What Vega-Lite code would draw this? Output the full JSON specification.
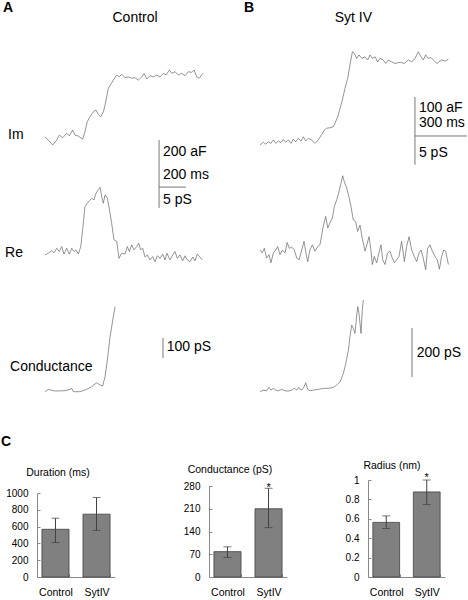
{
"$schema": "https://vega.github.io/schema/vega-lite/v6.json",
"padding": 0,
"background": "white",
"spacing": 14,
"config": {"view": {"stroke": null}, "font": "Liberation Sans", "title": {"color": "#000"}, "text": {"color": "#000"},
  "axis": {"labelOverlap": false, "grid": false, "title": null, "domainColor": "#888", "tickColor": "#888", "labelColor": "#000", "tickSize": -3}},
"datasets": {
"imA": [{"t":0,"v":14},{"t":24,"v":0},{"t":57,"v":-21},{"t":82,"v":-4},{"t":106,"v":21},{"t":131,"v":10},{"t":161,"v":29},{"t":180,"v":18},{"t":205,"v":43},{"t":222,"v":21},{"t":247,"v":17},{"t":279,"v":4},{"t":296,"v":35},{"t":313,"v":78},{"t":333,"v":99},{"t":358,"v":120},{"t":378,"v":128},{"t":395,"v":109},{"t":413,"v":99},{"t":432,"v":120},{"t":445,"v":149},{"t":457,"v":184},{"t":469,"v":220},{"t":487,"v":237},{"t":506,"v":255},{"t":531,"v":277},{"t":551,"v":269},{"t":568,"v":280},{"t":593,"v":265},{"t":617,"v":269},{"t":642,"v":263},{"t":667,"v":265},{"t":691,"v":255},{"t":717,"v":269},{"t":734,"v":284},{"t":754,"v":260},{"t":778,"v":274},{"t":802,"v":269},{"t":828,"v":277},{"t":852,"v":269},{"t":877,"v":284},{"t":897,"v":277},{"t":921,"v":298},{"t":939,"v":284},{"t":963,"v":291},{"t":988,"v":277},{"t":1013,"v":284},{"t":1037,"v":274},{"t":1062,"v":291},{"t":1087,"v":288},{"t":1104,"v":298},{"t":1124,"v":269},{"t":1143,"v":263},{"t":1169,"v":284}],
"reA": [{"t":0,"v":0},{"t":24,"v":0.4},{"t":49,"v":1.0},{"t":67,"v":0.5},{"t":87,"v":1.6},{"t":106,"v":0.8},{"t":124,"v":2.0},{"t":141,"v":0.2},{"t":161,"v":1.6},{"t":180,"v":0.2},{"t":198,"v":1.6},{"t":215,"v":0.8},{"t":230,"v":1.2},{"t":247,"v":0.2},{"t":265,"v":2.0},{"t":279,"v":6.0},{"t":296,"v":11.5},{"t":313,"v":12.3},{"t":328,"v":12.9},{"t":346,"v":13.5},{"t":363,"v":13.1},{"t":378,"v":14.7},{"t":395,"v":15.5},{"t":408,"v":16.1},{"t":420,"v":13.9},{"t":432,"v":12.3},{"t":445,"v":14.3},{"t":462,"v":13.5},{"t":476,"v":11.1},{"t":494,"v":7.5},{"t":511,"v":3.6},{"t":531,"v":3.2},{"t":548,"v":-0.8},{"t":568,"v":0.4},{"t":593,"v":0.2},{"t":610,"v":2.0},{"t":625,"v":0.8},{"t":642,"v":2.4},{"t":659,"v":1.2},{"t":679,"v":2.0},{"t":694,"v":2.8},{"t":709,"v":1.2},{"t":724,"v":1.6},{"t":741,"v":-0.5},{"t":758,"v":0},{"t":778,"v":-1.2},{"t":798,"v":-0.4},{"t":815,"v":-1.6},{"t":832,"v":-0.2},{"t":852,"v":-0.8},{"t":872,"v":0.2},{"t":889,"v":-1.2},{"t":904,"v":0.4},{"t":926,"v":-1.2},{"t":946,"v":0},{"t":963,"v":0.8},{"t":980,"v":-0.8},{"t":1000,"v":0},{"t":1020,"v":-1.4},{"t":1037,"v":-0.2},{"t":1054,"v":-1.2},{"t":1074,"v":-1.6},{"t":1094,"v":-0.5},{"t":1111,"v":-1.4},{"t":1128,"v":0.2},{"t":1148,"v":-0.5},{"t":1165,"v":-1.2}],
"gA": [{"t":0,"v":1.5},{"t":24,"v":13},{"t":42,"v":10},{"t":74,"v":5},{"t":148,"v":6.5},{"t":185,"v":13},{"t":198,"v":18.5},{"t":210,"v":1.5},{"t":259,"v":1.5},{"t":309,"v":13},{"t":346,"v":26.5},{"t":383,"v":46.5},{"t":408,"v":35},{"t":427,"v":30},{"t":445,"v":76.5},{"t":462,"v":160},{"t":482,"v":276.5},{"t":502,"v":360},{"t":519,"v":426.5}],
"imB": [{"t":0,"v":-5},{"t":19,"v":2},{"t":33,"v":-3},{"t":48,"v":3},{"t":63,"v":-1},{"t":77,"v":8},{"t":91,"v":-1},{"t":106,"v":5},{"t":121,"v":1},{"t":134,"v":9},{"t":148,"v":2},{"t":163,"v":8},{"t":179,"v":-1},{"t":192,"v":10},{"t":206,"v":3},{"t":221,"v":12},{"t":237,"v":5},{"t":250,"v":16},{"t":264,"v":5},{"t":279,"v":12},{"t":298,"v":8},{"t":317,"v":-1},{"t":336,"v":8},{"t":356,"v":22},{"t":371,"v":33},{"t":385,"v":38},{"t":404,"v":39},{"t":423,"v":42},{"t":433,"v":51},{"t":448,"v":67},{"t":462,"v":89},{"t":475,"v":110},{"t":490,"v":140},{"t":506,"v":166},{"t":519,"v":200},{"t":533,"v":234},{"t":544,"v":230},{"t":558,"v":217},{"t":571,"v":226},{"t":587,"v":217},{"t":606,"v":221},{"t":621,"v":213},{"t":635,"v":226},{"t":648,"v":217},{"t":664,"v":221},{"t":679,"v":208},{"t":692,"v":217},{"t":711,"v":213},{"t":725,"v":204},{"t":740,"v":213},{"t":760,"v":208},{"t":779,"v":204},{"t":808,"v":207},{"t":833,"v":204},{"t":856,"v":213},{"t":875,"v":208},{"t":894,"v":217},{"t":913,"v":234},{"t":929,"v":221},{"t":942,"v":213},{"t":956,"v":226},{"t":971,"v":217},{"t":987,"v":219},{"t":1000,"v":213},{"t":1020,"v":204},{"t":1033,"v":208},{"t":1048,"v":213},{"t":1067,"v":210},{"t":1087,"v":215}],
"reB": [{"t":0,"v":0.3},{"t":13,"v":-0.2},{"t":25,"v":0.6},{"t":38,"v":-1.1},{"t":52,"v":-0.5},{"t":63,"v":-1.9},{"t":77,"v":-0.2},{"t":90,"v":0.3},{"t":102,"v":0.9},{"t":115,"v":-0.5},{"t":129,"v":0.3},{"t":144,"v":-0.2},{"t":157,"v":1.6},{"t":169,"v":0.6},{"t":183,"v":0.8},{"t":198,"v":0.3},{"t":212,"v":-1.1},{"t":225,"v":-1.4},{"t":241,"v":0.3},{"t":254,"v":1.8},{"t":265,"v":-0.2},{"t":275,"v":-1.7},{"t":288,"v":0.3},{"t":302,"v":1.2},{"t":317,"v":0.1},{"t":333,"v":0.9},{"t":346,"v":1.2},{"t":356,"v":2.9},{"t":365,"v":4.4},{"t":379,"v":6.1},{"t":391,"v":4.1},{"t":404,"v":5.0},{"t":417,"v":5.8},{"t":429,"v":7.8},{"t":443,"v":9.0},{"t":456,"v":10.4},{"t":467,"v":11.8},{"t":477,"v":13.1},{"t":486,"v":12.1},{"t":500,"v":11.0},{"t":513,"v":9.5},{"t":525,"v":7.8},{"t":538,"v":5.5},{"t":552,"v":5.2},{"t":563,"v":3.5},{"t":577,"v":4.6},{"t":590,"v":2.3},{"t":606,"v":0.1},{"t":619,"v":1.5},{"t":629,"v":2.6},{"t":640,"v":0.3},{"t":648,"v":-2.2},{"t":659,"v":-0.8},{"t":673,"v":-1.9},{"t":686,"v":-0.2},{"t":698,"v":1.2},{"t":708,"v":-1.4},{"t":721,"v":-2.2},{"t":736,"v":-0.2},{"t":750,"v":0.1},{"t":763,"v":-1.1},{"t":775,"v":-1.9},{"t":788,"v":-1.4},{"t":802,"v":-0.8},{"t":817,"v":1.8},{"t":833,"v":-1.7},{"t":846,"v":0.9},{"t":860,"v":2.6},{"t":875,"v":0.3},{"t":890,"v":-0.8},{"t":904,"v":-1.7},{"t":917,"v":-0.2},{"t":929,"v":0.3},{"t":942,"v":-1.1},{"t":956,"v":-3.1},{"t":967,"v":0.6},{"t":981,"v":1.2},{"t":994,"v":0.1},{"t":1010,"v":-0.8},{"t":1023,"v":-1.4},{"t":1035,"v":-3.0},{"t":1048,"v":-0.8},{"t":1060,"v":0.3},{"t":1071,"v":0.1},{"t":1087,"v":-2.2}],
"gB": [{"t":0,"v":-7},{"t":19,"v":0},{"t":38,"v":-3},{"t":52,"v":11},{"t":63,"v":0},{"t":77,"v":7},{"t":91,"v":0},{"t":106,"v":-3},{"t":125,"v":3},{"t":144,"v":-3},{"t":163,"v":-4},{"t":183,"v":0},{"t":198,"v":7},{"t":212,"v":0},{"t":225,"v":11},{"t":237,"v":0},{"t":250,"v":7},{"t":264,"v":30},{"t":275,"v":3},{"t":289,"v":-3},{"t":308,"v":0},{"t":337,"v":3},{"t":366,"v":7},{"t":394,"v":7},{"t":423,"v":11},{"t":442,"v":20},{"t":462,"v":34},{"t":481,"v":68},{"t":495,"v":109},{"t":510,"v":163},{"t":519,"v":217},{"t":529,"v":265},{"t":538,"v":252},{"t":548,"v":231},{"t":558,"v":306},{"t":564,"v":340},{"t":571,"v":313},{"t":583,"v":231},{"t":590,"v":326},{"t":596,"v":367}],
"bars": [
{"chart":"dur","group":"Control","mean":568,"lo":410,"hi":700},
{"chart":"dur","group":"SytIV","mean":748,"lo":555,"hi":946},
{"chart":"cond","group":"Control","mean":78,"lo":60,"hi":93},
{"chart":"cond","group":"SytIV","mean":210,"lo":152,"hi":273,"sig":"*"},
{"chart":"rad","group":"Control","mean":0.563,"lo":0.5,"hi":0.63},
{"chart":"rad","group":"SytIV","mean":0.877,"lo":0.747,"hi":1.0,"sig":"*"}
]
},
"vconcat": [
{"spacing": 0, "hconcat": [
{"width": 234, "height": 420, "resolve": {"scale": {"y": "independent"}}, "layer": [
 {"layer": [
  {"data": {"name": "imA"}, "mark": {"type": "line", "stroke": "#666", "strokeWidth": 0.7},
   "encoding": {"x": {"field": "t", "type": "quantitative", "scale": {"domain": [-333.3, 1400], "nice": false, "zero": false}, "axis": null},
                "y": {"field": "v", "type": "quantitative", "scale": {"domain": [-1191, 596], "nice": false, "zero": false}, "axis": null}}},
  {"data": {"values": [{}]}, "mark": {"type": "rule", "stroke": "#777", "strokeWidth": 1},
   "encoding": {"x": {"datum": 845, "axis": null}, "y": {"datum": 0, "axis": null}, "y2": {"datum": -200}}},
  {"data": {"values": [{}]}, "mark": {"type": "rule", "stroke": "#777", "strokeWidth": 1},
   "encoding": {"x": {"datum": 845, "axis": null}, "x2": {"datum": 1045}, "y": {"datum": -200, "axis": null}}},
  {"data": {"values": [{}]}, "mark": {"type": "text", "text": "200 aF", "align": "left", "baseline": "middle", "fontSize": 14},
   "encoding": {"x": {"datum": 874, "axis": null}, "y": {"datum": -50, "axis": null}}},
  {"data": {"values": [{}]}, "mark": {"type": "text", "text": "200 ms", "align": "left", "baseline": "middle", "fontSize": 14},
   "encoding": {"x": {"datum": 874, "axis": null}, "y": {"datum": -149, "axis": null}}},
  {"data": {"values": [{}]}, "mark": {"type": "text", "text": "Im", "align": "left", "baseline": "middle", "fontSize": 14},
   "encoding": {"x": {"datum": -274, "axis": null}, "y": {"datum": 21, "axis": null}}},
  {"data": {"values": [{}]}, "mark": {"type": "text", "text": "A", "align": "left", "baseline": "middle", "fontSize": 14, "fontWeight": "bold"},
   "encoding": {"x": {"datum": -311, "axis": null}, "y": {"datum": 562, "axis": null}}},
  {"data": {"values": [{}]}, "mark": {"type": "text", "text": "Control", "align": "center", "baseline": "middle", "fontSize": 14},
   "encoding": {"x": {"datum": 667, "axis": null}, "y": {"datum": 520, "axis": null}}}
 ]},
 {"layer": [
  {"data": {"name": "reA"}, "mark": {"type": "line", "stroke": "#666", "strokeWidth": 0.7},
   "encoding": {"x": {"field": "t", "type": "quantitative", "axis": null},
                "y": {"field": "v", "type": "quantitative", "scale": {"domain": [-39.3, 60.7], "nice": false, "zero": false}, "axis": null}}},
  {"data": {"values": [{}]}, "mark": {"type": "rule", "stroke": "#777", "strokeWidth": 1},
   "encoding": {"x": {"datum": 845, "axis": null}, "y": {"datum": 16.2, "axis": null}, "y2": {"datum": 11.2}}},
  {"data": {"values": [{}]}, "mark": {"type": "text", "text": "5 pS", "align": "left", "baseline": "middle", "fontSize": 14},
   "encoding": {"x": {"datum": 874, "axis": null}, "y": {"datum": 13.1, "axis": null}}},
  {"data": {"values": [{}]}, "mark": {"type": "text", "text": "Re", "align": "left", "baseline": "middle", "fontSize": 14},
   "encoding": {"x": {"datum": -296, "axis": null}, "y": {"datum": 0.5, "axis": null}}}
 ]},
 {"layer": [
  {"data": {"name": "gA"}, "mark": {"type": "line", "stroke": "#666", "strokeWidth": 0.7},
   "encoding": {"x": {"field": "t", "type": "quantitative", "axis": null},
                "y": {"field": "v", "type": "quantitative", "scale": {"domain": [-140, 1960], "nice": false, "zero": false}, "axis": null}}},
  {"data": {"values": [{}]}, "mark": {"type": "rule", "stroke": "#777", "strokeWidth": 1},
   "encoding": {"x": {"datum": 874, "axis": null}, "y": {"datum": 170, "axis": null}, "y2": {"datum": 270}}},
  {"data": {"values": [{}]}, "mark": {"type": "text", "text": "100 pS", "align": "left", "baseline": "middle", "fontSize": 14},
   "encoding": {"x": {"datum": 902, "axis": null}, "y": {"datum": 226, "axis": null}}},
  {"data": {"values": [{}]}, "mark": {"type": "text", "text": "Conductance", "align": "left", "baseline": "middle", "fontSize": 14},
   "encoding": {"x": {"datum": -259, "axis": null}, "y": {"datum": 125, "axis": null}}}
 ]}
]},
{"width": 234, "height": 420, "resolve": {"scale": {"y": "independent"}}, "layer": [
 {"layer": [
  {"data": {"name": "imB"}, "mark": {"type": "line", "stroke": "#666", "strokeWidth": 0.7},
   "encoding": {"x": {"field": "t", "type": "quantitative", "scale": {"domain": [-150, 1200], "nice": false, "zero": false}, "axis": null},
                "y": {"field": "v", "type": "quantitative", "scale": {"domain": [-710.2, 366.7], "nice": false, "zero": false}, "axis": null}}},
  {"data": {"values": [{}]}, "mark": {"type": "rule", "stroke": "#777", "strokeWidth": 1},
   "encoding": {"x": {"datum": 894, "axis": null}, "y": {"datum": 118, "axis": null}, "y2": {"datum": 18}}},
  {"data": {"values": [{}]}, "mark": {"type": "rule", "stroke": "#777", "strokeWidth": 1},
   "encoding": {"x": {"datum": 894, "axis": null}, "x2": {"datum": 1194}, "y": {"datum": 18, "axis": null}}},
  {"data": {"values": [{}]}, "mark": {"type": "text", "text": "100 aF", "align": "left", "baseline": "middle", "fontSize": 14},
   "encoding": {"x": {"datum": 917, "axis": null}, "y": {"datum": 90, "axis": null}}},
  {"data": {"values": [{}]}, "mark": {"type": "text", "text": "300 ms", "align": "left", "baseline": "middle", "fontSize": 14},
   "encoding": {"x": {"datum": 917, "axis": null}, "y": {"datum": 51, "axis": null}}},
  {"data": {"values": [{}]}, "mark": {"type": "text", "text": "B", "align": "left", "baseline": "middle", "fontSize": 14, "fontWeight": "bold"},
   "encoding": {"x": {"datum": -92, "axis": null}, "y": {"datum": 346, "axis": null}}},
  {"data": {"values": [{}]}, "mark": {"type": "text", "text": "Syt IV", "align": "center", "baseline": "middle", "fontSize": 14},
   "encoding": {"x": {"datum": 539, "axis": null}, "y": {"datum": 320, "axis": null}}}
 ]},
 {"layer": [
  {"data": {"name": "reB"}, "mark": {"type": "line", "stroke": "#666", "strokeWidth": 0.7},
   "encoding": {"x": {"field": "t", "type": "quantitative", "axis": null},
                "y": {"field": "v", "type": "quantitative", "scale": {"domain": [-29.0, 43.4], "nice": false, "zero": false}, "axis": null}}},
  {"data": {"values": [{}]}, "mark": {"type": "rule", "stroke": "#777", "strokeWidth": 1},
   "encoding": {"x": {"datum": 894, "axis": null}, "y": {"datum": 20, "axis": null}, "y2": {"datum": 15}}},
  {"data": {"values": [{}]}, "mark": {"type": "text", "text": "5 pS", "align": "left", "baseline": "middle", "fontSize": 14},
   "encoding": {"x": {"datum": 917, "axis": null}, "y": {"datum": 17.1, "axis": null}}}
 ]},
 {"layer": [
  {"data": {"name": "gB"}, "mark": {"type": "line", "stroke": "#666", "strokeWidth": 0.7},
   "encoding": {"x": {"field": "t", "type": "quantitative", "axis": null},
                "y": {"field": "v", "type": "quantitative", "scale": {"domain": [-122, 1591], "nice": false, "zero": false}, "axis": null}}},
  {"data": {"values": [{}]}, "mark": {"type": "rule", "stroke": "#777", "strokeWidth": 1},
   "encoding": {"x": {"datum": 877, "axis": null}, "y": {"datum": 253, "axis": null}, "y2": {"datum": 53}}},
  {"data": {"values": [{}]}, "mark": {"type": "text", "text": "200 pS", "align": "left", "baseline": "middle", "fontSize": 14},
   "encoding": {"x": {"datum": 904, "axis": null}, "y": {"datum": 153, "axis": null}}}
 ]}
]}
]},
{"spacing": 0,
 "title": {"text": "C", "anchor": "start", "fontSize": 14, "fontWeight": "bold", "offset": 12, "dx": 1},
 "hconcat": [
 {"width": 1, "height": 97, "data": {"values": []}, "mark": "point", "encoding": {}},
 {"width": 78, "height": 97,
  "title": {"text": "Duration (ms)", "fontSize": 10.5, "fontWeight": "normal", "anchor": "middle", "frame": "group", "dx": -18, "offset": 2},
  "data": {"name": "bars"},
  "transform": [{"filter": "datum.chart === 'dur'"}],
  "encoding": {"x": {"field": "group", "type": "nominal", "sort": ["Control", "SytIV"], "scale": {"paddingInner": 0.34, "paddingOuter": 0.12},
     "axis": {"labelAngle": 0, "labelFontSize": 10.5, "tickBand": "extent", "labelPadding": 13}}},
  "layer": [
   {"mark": {"type": "bar", "fill": "#808080", "stroke": "#404040", "strokeWidth": 0.8},
    "encoding": {"y": {"field": "mean", "type": "quantitative", "scale": {"domain": [0, 1000], "nice": false, "rangeMax": 13},
      "axis": {"values": [0, 200, 400, 600, 800, 1000], "format": "d", "tickCount": 20, "labelPadding": 12, "labelFontSize": 10, "minExtent": 36}}}},
   {"mark": {"type": "rule", "stroke": "#404040", "strokeWidth": 1}, "encoding": {"y": {"field": "lo", "type": "quantitative"}, "y2": {"field": "hi"}}},
   {"mark": {"type": "tick", "color": "#404040", "thickness": 1, "size": 8}, "encoding": {"y": {"field": "lo", "type": "quantitative"}}},
   {"mark": {"type": "tick", "color": "#404040", "thickness": 1, "size": 8}, "encoding": {"y": {"field": "hi", "type": "quantitative"}}}
  ]},
 {"width": 78, "height": 97,
  "title": {"text": "Conductance (pS)", "fontSize": 10.5, "fontWeight": "normal", "anchor": "middle", "frame": "group", "dx": -18, "offset": 5},
  "data": {"name": "bars"},
  "transform": [{"filter": "datum.chart === 'cond'"}],
  "encoding": {"x": {"field": "group", "type": "nominal", "sort": ["Control", "SytIV"], "scale": {"paddingInner": 0.34, "paddingOuter": 0.12},
     "axis": {"labelAngle": 0, "labelFontSize": 10.5, "tickBand": "extent", "labelPadding": 13}}},
  "layer": [
   {"mark": {"type": "bar", "fill": "#808080", "stroke": "#404040", "strokeWidth": 0.8},
    "encoding": {"y": {"field": "mean", "type": "quantitative", "scale": {"domain": [0, 280], "nice": false, "rangeMax": 6},
      "axis": {"values": [0, 70, 140, 210, 280], "format": "d", "tickCount": 20, "labelPadding": 12, "labelFontSize": 10, "minExtent": 94}}}},
   {"mark": {"type": "rule", "stroke": "#404040", "strokeWidth": 1}, "encoding": {"y": {"field": "lo", "type": "quantitative"}, "y2": {"field": "hi"}}},
   {"mark": {"type": "tick", "color": "#404040", "thickness": 1, "size": 8}, "encoding": {"y": {"field": "lo", "type": "quantitative"}}},
   {"mark": {"type": "tick", "color": "#404040", "thickness": 1, "size": 8}, "encoding": {"y": {"field": "hi", "type": "quantitative"}}},
   {"transform": [{"filter": "datum.sig"}], "mark": {"type": "text", "baseline": "bottom", "fontSize": 11, "dy": 5},
    "encoding": {"y": {"field": "hi", "type": "quantitative"}, "text": {"field": "sig"}}}
  ]},
 {"width": 77, "height": 97,
  "title": {"text": "Radius (nm)", "fontSize": 10.5, "fontWeight": "normal", "anchor": "middle", "frame": "group", "dx": -14.5, "offset": 1},
  "data": {"name": "bars"},
  "transform": [{"filter": "datum.chart === 'rad'"}],
  "encoding": {"x": {"field": "group", "type": "nominal", "sort": ["Control", "SytIV"], "scale": {"paddingInner": 0.34, "paddingOuter": 0.12},
     "axis": {"labelAngle": 0, "labelFontSize": 10.5, "tickBand": "extent", "labelPadding": 13}}},
  "layer": [
   {"mark": {"type": "bar", "fill": "#808080", "stroke": "#404040", "strokeWidth": 0.8},
    "encoding": {"y": {"field": "mean", "type": "quantitative", "scale": {"domain": [0, 1], "nice": false},
      "axis": {"values": [0, 0.2, 0.4, 0.6, 0.8, 1], "tickCount": 20, "format": ".1~f", "labelPadding": 12, "labelFontSize": 10, "minExtent": 81}}}},
   {"mark": {"type": "rule", "stroke": "#404040", "strokeWidth": 1}, "encoding": {"y": {"field": "lo", "type": "quantitative"}, "y2": {"field": "hi"}}},
   {"mark": {"type": "tick", "color": "#404040", "thickness": 1, "size": 8}, "encoding": {"y": {"field": "lo", "type": "quantitative"}}},
   {"mark": {"type": "tick", "color": "#404040", "thickness": 1, "size": 8}, "encoding": {"y": {"field": "hi", "type": "quantitative"}}},
   {"transform": [{"filter": "datum.sig"}], "mark": {"type": "text", "baseline": "bottom", "fontSize": 11, "dy": 3},
    "encoding": {"y": {"field": "hi", "type": "quantitative"}, "text": {"field": "sig"}}}
  ]}
 ]}
]
}
